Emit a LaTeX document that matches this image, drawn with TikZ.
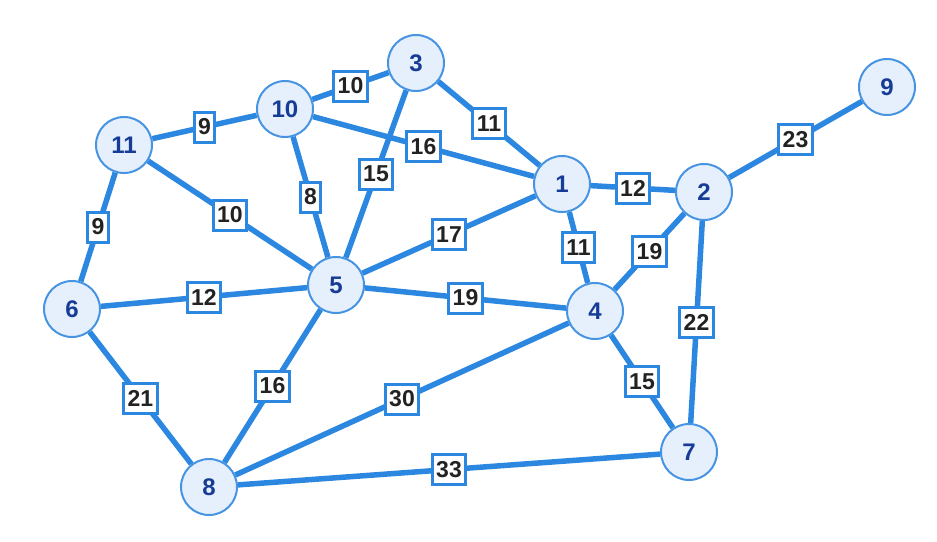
\documentclass[tikz,border=0pt]{standalone}
\usepackage{fontspec}
\setmainfont{Liberation Sans}
\definecolor{edgeblue}{RGB}{44,135,224}
\definecolor{nodeborder}{RGB}{70,148,226}
\definecolor{nodefill}{RGB}{230,240,252}
\definecolor{nodetext}{RGB}{22,60,150}
\definecolor{labeltext}{RGB}{34,34,34}
\tikzset{
  vert/.style={circle, draw=nodeborder, fill=nodefill, line width=2pt, minimum size=56pt, inner sep=0pt,
    text=nodetext, font=\fontsize{24}{24}\selectfont\bfseries},
  conn/.style={draw=edgeblue, line width=5.5pt},
  wlabel/.style={rectangle, draw=edgeblue, fill=white, line width=3pt, inner xsep=4pt, inner ysep=0pt,
    minimum height=30pt, text=labeltext, font=\fontsize{23}{23}\selectfont\bfseries, pos=0.5}
}
\begin{document}
\begin{tikzpicture}[x=1pt,y=-1pt]
\useasboundingbox (0,0) rectangle (937,541);
\node[vert] (n1) at (562,184) {1};
\node[vert] (n2) at (704,192) {2};
\node[vert] (n3) at (416,63) {3};
\node[vert] (n4) at (595,311) {4};
\node[vert] (n5) at (336,285) {5};
\node[vert] (n6) at (72,309) {6};
\node[vert] (n7) at (689,452) {7};
\node[vert] (n8) at (209,487) {8};
\node[vert] (n9) at (887,87) {9};
\node[vert] (n10) at (285,109) {10};
\node[vert] (n11) at (124,145) {11};
\path[conn] (n3) -- node[wlabel] {10} (n10);
\path[conn] (n3) -- node[wlabel] {11} (n1);
\path[conn] (n3) -- node[wlabel] {15} (n5);
\path[conn] (n10) -- node[wlabel] {9} (n11);
\path[conn] (n10) -- node[wlabel] {16} (n1);
\path[conn] (n10) -- node[wlabel] {8} (n5);
\path[conn] (n11) -- node[wlabel] {10} (n5);
\path[conn] (n11) -- node[wlabel] {9} (n6);
\path[conn] (n6) -- node[wlabel] {12} (n5);
\path[conn] (n6) -- node[wlabel] {21} (n8);
\path[conn] (n5) -- node[wlabel] {17} (n1);
\path[conn] (n5) -- node[wlabel] {19} (n4);
\path[conn] (n5) -- node[wlabel] {16} (n8);
\path[conn] (n1) -- node[wlabel] {12} (n2);
\path[conn] (n1) -- node[wlabel] {11} (n4);
\path[conn] (n2) -- node[wlabel] {23} (n9);
\path[conn] (n2) -- node[wlabel] {19} (n4);
\path[conn] (n2) -- node[wlabel] {22} (n7);
\path[conn] (n4) -- node[wlabel] {15} (n7);
\path[conn] (n4) -- node[wlabel] {30} (n8);
\path[conn] (n8) -- node[wlabel] {33} (n7);
\end{tikzpicture}
\end{document}
